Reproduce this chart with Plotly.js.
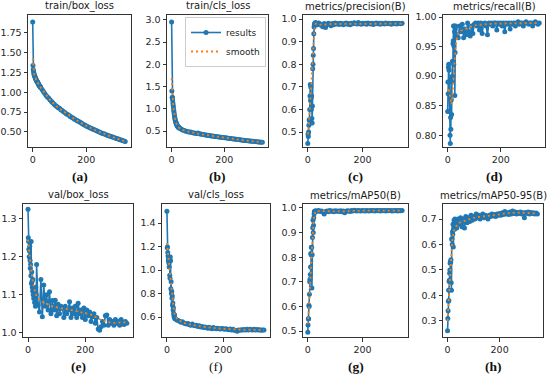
<!DOCTYPE html>
<html>
<head>
<meta charset="utf-8">
<script src="https://cdn.plot.ly/plotly-3.0.1.min.js"></script>
<style>html,body{margin:0;padding:0;background:#fff;}#chart{width:550px;height:375px;}</style>
</head>
<body>
<div id="chart"></div>
<script>
// ---------- DATA ----------
const epochs = [0,1,2,3,4,5,6,7,8,9,10,11,12,13,14,15,16,17,18,19,20,21,22,23,24,25,26,27,28,29,
  30,35,40,45,50,55,60,65,70,75,80,85,90,95,100,105,110,115,120,125,130,135,140,145,150,155,160,165,170,175,
  180,185,190,195,200,205,210,215,220,225,230,235,240,245,250,255,260,265,270,275,280,285,290,295,300,305,310,315,320,325,
  330,335,340,345];

const trainBox = [1.89,1.34,1.29,1.27,1.25,1.23,1.22,1.21,1.20,1.19,1.18,1.175,1.165,1.16,1.15,1.145,1.14,1.135,1.13,1.12,
  1.115,1.11,1.10,1.095,1.09,1.085,1.08,1.075,1.07,1.065,
  1.06,1.035,1.01,0.985,0.96,0.94,0.925,0.905,0.885,0.87,0.85,0.835,0.82,0.805,0.80,0.78,0.77,0.755,0.745,0.73,
  0.72,0.71,0.695,0.685,0.675,0.665,0.655,0.645,0.635,0.625,0.615,0.605,0.595,0.585,0.575,0.567,0.56,0.55,0.543,0.535,
  0.527,0.52,0.512,0.505,0.497,0.49,0.482,0.476,0.47,0.463,0.457,0.45,0.445,0.44,0.432,0.427,0.42,0.415,0.41,0.403,
  0.397,0.392,0.386,0.378];

const trainCls = [2.95,1.40,1.25,1.26,1.20,1.13,1.08,1.03,0.97,0.93,0.88,0.84,0.80,0.77,0.74,0.72,0.70,0.68,0.665,0.65,
  0.64,0.625,0.615,0.605,0.60,0.59,0.585,0.578,0.572,0.568,
  0.565,0.55,0.53,0.515,0.505,0.495,0.49,0.48,0.475,0.47,0.462,0.456,0.45,0.445,0.455,0.436,0.43,0.425,0.42,0.415,
  0.41,0.405,0.40,0.396,0.39,0.386,0.381,0.378,0.374,0.37,0.366,0.362,0.358,0.354,0.35,0.346,0.342,0.338,0.334,0.33,
  0.326,0.322,0.318,0.314,0.31,0.306,0.302,0.298,0.294,0.29,0.287,0.284,0.28,0.277,0.274,0.27,0.267,0.264,0.261,0.258,
  0.255,0.252,0.249,0.246];

const precision = [0.45,0.49,0.48,0.50,0.53,0.555,0.55,0.60,0.66,0.71,0.64,0.70,0.65,0.60,0.66,0.56,0.54,0.615,0.78,0.80,
  0.84,0.87,0.935,0.965,0.975,0.98,0.975,0.982,0.985,0.978,
  0.982,0.975,0.983,0.978,0.972,0.966,0.98,0.963,0.975,0.982,0.978,0.97,0.98,0.975,0.983,0.978,0.98,0.976,0.982,0.979,
  0.975,0.98,0.983,0.977,0.98,0.975,0.982,0.979,0.984,0.98,0.978,0.985,0.98,0.977,0.982,0.979,0.981,0.977,0.983,0.98,
  0.978,0.982,0.976,0.98,0.983,0.979,0.981,0.977,0.982,0.98,0.978,0.983,0.979,0.981,0.98,0.977,0.982,0.979,0.981,0.978,
  0.982,0.98,0.979,0.981];

const recall = [0.84,0.89,0.87,0.915,0.92,0.91,0.89,0.84,0.87,0.80,0.786,0.83,0.81,0.895,0.86,0.835,0.89,0.90,0.925,0.90,
  0.955,0.96,0.985,0.92,0.95,0.985,0.975,0.867,0.94,0.98,
  0.985,0.97,0.965,0.985,0.975,0.988,0.965,0.98,0.97,0.99,0.975,0.968,0.985,0.972,0.988,0.99,0.985,0.99,0.978,0.99,
  0.972,0.988,0.99,0.985,0.97,0.99,0.988,0.99,0.985,0.99,0.99,0.978,0.99,0.988,0.99,0.985,0.99,0.975,0.99,0.988,
  0.99,0.98,0.99,0.988,0.99,0.985,0.99,0.992,0.988,0.99,0.99,0.985,0.99,0.992,0.99,0.988,0.99,0.99,0.985,0.99,
  0.992,0.99,0.988,0.99];

const valBox = [1.325,1.25,1.24,1.22,1.20,1.215,1.228,1.19,1.17,1.18,1.15,1.24,1.13,1.16,1.135,1.12,1.11,1.14,1.10,1.12,
  1.09,1.117,1.10,1.08,1.11,1.09,1.07,1.12,1.08,1.10,
  1.18,1.073,1.055,1.14,1.042,1.126,1.07,1.10,1.06,1.108,1.05,1.085,1.06,1.086,1.045,1.075,1.05,1.07,1.064,1.04,
  1.07,1.05,1.06,1.082,1.04,1.065,1.05,1.07,1.04,1.078,1.05,1.06,1.04,1.065,1.035,1.06,1.045,1.055,1.03,1.042,
  1.05,1.025,1.04,1.01,1.007,1.016,1.03,1.02,1.045,1.047,1.02,1.035,1.025,1.03,1.02,1.035,1.025,1.03,1.02,1.035,
  1.028,1.022,1.03,1.025];

const valCls = [1.50,1.19,1.196,1.15,1.12,1.08,1.10,1.06,1.025,1.09,0.955,0.93,1.11,1.08,0.84,0.90,0.80,0.82,0.76,0.78,
  0.70,0.72,0.66,0.68,0.63,0.61,0.60,0.62,0.59,0.585,
  0.585,0.575,0.57,0.565,0.555,0.56,0.55,0.545,0.54,0.545,0.535,0.53,0.54,0.53,0.525,0.53,0.52,0.525,0.515,0.52,
  0.51,0.515,0.51,0.505,0.512,0.505,0.50,0.51,0.505,0.50,0.505,0.50,0.498,0.503,0.50,0.495,0.50,0.496,0.492,0.498,
  0.49,0.495,0.488,0.485,0.48,0.49,0.487,0.492,0.49,0.494,0.49,0.495,0.49,0.496,0.492,0.49,0.495,0.49,0.493,0.49,
  0.492,0.488,0.49,0.49];

const map50 = [0.495,0.525,0.55,0.55,0.605,0.60,0.65,0.70,0.71,0.73,0.76,0.815,0.81,0.84,0.84,0.675,0.81,0.88,0.92,0.95,
  0.90,0.93,0.96,0.975,0.985,0.987,0.985,0.988,0.986,0.988,
  0.987,0.988,0.99,0.986,0.988,0.984,0.975,0.986,0.988,0.985,0.99,0.987,0.988,0.985,0.989,0.987,0.988,0.986,0.989,0.985,
  0.988,0.98,0.987,0.989,0.988,0.986,0.99,0.988,0.991,0.989,0.988,0.99,0.989,0.988,0.99,0.989,0.988,0.99,0.989,0.988,
  0.99,0.989,0.99,0.988,0.99,0.989,0.99,0.988,0.99,0.989,0.99,0.988,0.99,0.989,0.99,0.989,0.988,0.99,0.989,0.99,
  0.988,0.99,0.989,0.99];

const map5095 = [0.262,0.31,0.34,0.377,0.42,0.38,0.455,0.46,0.487,0.50,0.526,0.533,0.53,0.54,0.45,0.42,0.62,0.624,0.60,0.65,
  0.64,0.68,0.59,0.66,0.67,0.695,0.685,0.66,0.70,0.675,
  0.69,0.665,0.70,0.68,0.705,0.67,0.70,0.665,0.71,0.685,0.705,0.69,0.715,0.695,0.71,0.70,0.72,0.705,0.715,0.70,
  0.71,0.72,0.705,0.715,0.71,0.70,0.715,0.71,0.72,0.712,0.718,0.71,0.72,0.715,0.722,0.715,0.725,0.718,0.73,0.72,
  0.725,0.718,0.728,0.72,0.732,0.722,0.728,0.72,0.726,0.722,0.728,0.72,0.725,0.705,0.726,0.722,0.728,0.72,0.726,0.722,
  0.725,0.72,0.724,0.72];

const smoothEpochs = [0,2,4,6,8,10,12,14,16,18,20,22,25,28,32,36,40,50,60,70,80,90,100,120,140,160,180,200,220,240,260,280,300,320,345];

const smTrainBox = [1.43,1.30,1.25,1.22,1.20,1.18,1.165,1.15,1.14,1.13,1.115,1.10,1.085,1.07,1.05,1.03,1.01,0.96,0.925,0.885,
  0.85,0.82,0.795,0.745,0.695,0.655,0.615,0.575,0.543,0.512,0.482,0.457,0.432,0.41,0.38];
const smTrainCls = [1.69,1.35,1.20,1.10,0.98,0.89,0.81,0.75,0.70,0.67,0.64,0.615,0.59,0.575,0.56,0.545,0.53,0.505,0.49,0.475,
  0.462,0.45,0.44,0.42,0.40,0.381,0.366,0.35,0.334,0.318,0.302,0.287,0.27,0.258,0.246];
const smPrecision = [0.49,0.50,0.535,0.58,0.63,0.665,0.70,0.75,0.79,0.83,0.88,0.92,0.965,0.978,0.98,0.978,0.976,0.975,0.974,0.976,
  0.978,0.978,0.979,0.979,0.979,0.98,0.98,0.981,0.98,0.98,0.98,0.98,0.98,0.98,0.98];
const smRecall = [0.875,0.88,0.878,0.874,0.868,0.862,0.856,0.852,0.855,0.865,0.88,0.895,0.918,0.94,0.957,0.966,0.972,0.977,0.979,0.981,
  0.983,0.985,0.986,0.987,0.988,0.988,0.989,0.989,0.989,0.989,0.99,0.99,0.99,0.99,0.99];
const smValBox = [1.245,1.235,1.215,1.20,1.185,1.17,1.16,1.15,1.14,1.13,1.12,1.115,1.108,1.10,1.095,1.09,1.087,1.082,1.078,1.074,
  1.071,1.069,1.067,1.064,1.062,1.058,1.055,1.052,1.048,1.04,1.032,1.028,1.026,1.027,1.028];
const smValCls = [1.23,1.18,1.12,1.08,1.04,1.00,0.96,0.90,0.85,0.79,0.74,0.70,0.655,0.625,0.60,0.585,0.575,0.56,0.55,0.543,
  0.537,0.532,0.528,0.52,0.513,0.507,0.503,0.50,0.497,0.493,0.49,0.491,0.492,0.491,0.49];
const smMap50 = [0.53,0.55,0.59,0.64,0.69,0.73,0.77,0.81,0.85,0.89,0.925,0.955,0.978,0.986,0.987,0.987,0.987,0.986,0.984,0.985,
  0.987,0.987,0.987,0.987,0.986,0.988,0.989,0.989,0.989,0.989,0.989,0.989,0.989,0.989,0.989];
const smMap5095 = [0.30,0.335,0.37,0.42,0.465,0.50,0.54,0.565,0.60,0.615,0.63,0.645,0.655,0.663,0.67,0.678,0.683,0.688,0.69,0.694,
  0.698,0.702,0.705,0.708,0.71,0.712,0.714,0.718,0.722,0.724,0.725,0.725,0.723,0.723,0.722];

const titles = ["train/box_loss","train/cls_loss","metrics/precision(B)","metrics/recall(B)",
  "val/box_loss","val/cls_loss","metrics/mAP50(B)","metrics/mAP50-95(B)"];
const panelLabels = ["(a)","(b)","(c)","(d)","(e)","(f)","(g)","(h)"];
const xTicks = [0, 200];

// ---------- LAYOUT ----------
const W = 550, H = 375;
const series = [trainBox, trainCls, precision, recall, valBox, valCls, map50, map5095];
const smooths = [smTrainBox, smTrainCls, smPrecision, smRecall, smValBox, smValCls, smMap50, smMap5095];
const boxes = [ // [left, right, top, bottom] in px
  [28,131,15,147],[167,268,15,147],[303,408,15,147],[443,545,15,147],
  [23,133,204,337],[162,270,204,337],[303,408,204,337],[443,543,204,337]];
const yRanges = [[0.31,1.977],[0.14,3.11],[0.434,1.018],[0.780,1.0035],
  [0.989,1.339],[0.43,1.562],[0.476,1.016],[0.237,0.759]];
const yFmt = [[0.25,'.2f'],[0.5,'.1f'],[0.1,'.1f'],[0.05,'.2f'],[0.1,'.1f'],[0.2,'.1f'],[0.1,'.1f'],[0.1,'.1f']];
const labelY = [176,176,176,176,366,366,366,366];

const BLUE = '#1f77b4', ORANGE = '#ff7f0e';
const tickFont = {family:'DejaVu Sans', size:9.5, color:'#262626'};

const traces = [];
const layout = {
  width: W, height: H,
  margin: {l:0, r:0, t:0, b:0},
  paper_bgcolor: '#fff', plot_bgcolor: '#fff',
  showlegend: true,
  legend: {x: 266/W, y: 1-17/H, xanchor:'right', yanchor:'top',
    font:{family:'DejaVu Sans', size:9, color:'#262626'},
    bgcolor:'rgba(255,255,255,0.9)', bordercolor:'#cccccc', borderwidth:1,
    itemwidth:30, tracegroupgap:0},
  annotations: []
};

for (let i = 0; i < 8; i++) {
  const xa = i === 0 ? 'x' : 'x' + (i+1);
  const ya = i === 0 ? 'y' : 'y' + (i+1);
  const b = boxes[i];
  traces.push({
    x: epochs, y: series[i], xaxis: xa, yaxis: ya, type: 'scatter', mode: 'lines+markers',
    name: 'results', showlegend: i === 1, legendgroup: 'r',
    line: {color: BLUE, width: 1.6}, marker: {color: BLUE, size: 5}
  });
  traces.push({
    x: smoothEpochs, y: smooths[i], xaxis: xa, yaxis: ya, type: 'scatter', mode: 'lines',
    name: 'smooth', showlegend: i === 1, legendgroup: 's',
    line: {color: ORANGE, width: 1.8, dash: '2px,3px'}
  });
  const axCommon = {showline:true, mirror:true, linecolor:'#333', linewidth:1, ticks:'outside',
    ticklen:3.5, tickwidth:1, tickcolor:'#333', tickfont:tickFont, showgrid:false, zeroline:false, fixedrange:true};
  layout[i === 0 ? 'xaxis' : 'xaxis' + (i+1)] = Object.assign({}, axCommon, {
    domain: [b[0]/W, b[1]/W], anchor: ya, range: [-17.5, 366.5], tickvals: xTicks, ticktext: xTicks.map(String)
  });
  layout[i === 0 ? 'yaxis' : 'yaxis' + (i+1)] = Object.assign({}, axCommon, {
    domain: [1 - b[3]/H, 1 - b[2]/H], anchor: xa, range: yRanges[i],
    tick0: 0, dtick: yFmt[i][0], tickformat: yFmt[i][1]
  });
  const cx = (b[0] + b[1]) / 2 / W;
  layout.annotations.push({
    text: titles[i], xref:'paper', yref:'paper', x: cx, y: 1 - b[2]/H, xanchor:'center', yanchor:'bottom',
    yshift: 1, showarrow:false, font:{family:'DejaVu Sans', size:10, color:'#1a1a1a'}
  });
  layout.annotations.push({
    text: i === 5 ? panelLabels[i] : '<b>' + panelLabels[i] + '</b>', xref:'paper', yref:'paper',
    x: cx, y: 1 - labelY[i]/H, xanchor:'center', yanchor:'middle',
    showarrow:false, font:{family:'Liberation Serif', size:13.5, color:'#111'}
  });
}

Plotly.newPlot('chart', traces, layout, {staticPlot:true, displayModeBar:false});
</script>
</body>
</html>
